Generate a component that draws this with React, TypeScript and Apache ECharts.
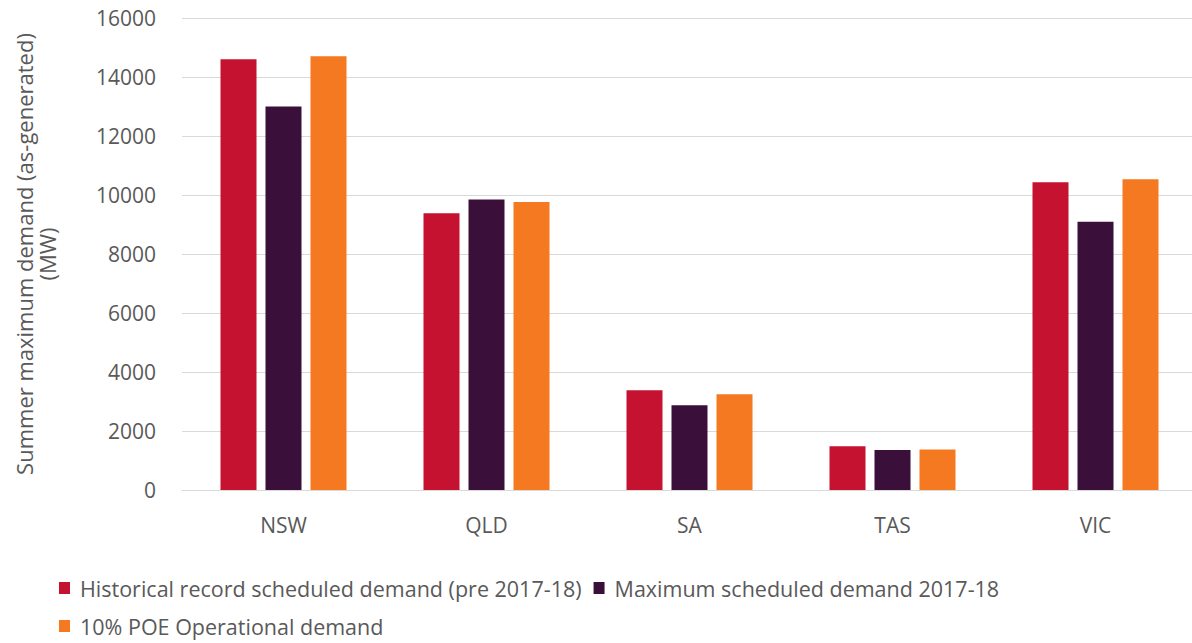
import React, { useEffect, useRef } from "react";
import * as echarts from "echarts";

const categories = ["NSW", "QLD", "SA", "TAS", "VIC"];
const historicalRecord = [14600, 9380, 3380, 1480, 10430];
const maxScheduled2017 = [13000, 9850, 2870, 1360, 9090];
const poe10Operational = [14700, 9760, 3245, 1375, 10530];
const seriesNames = [
  "Historical record scheduled demand (pre 2017-18)",
  "Maximum scheduled demand 2017-18",
  "10% POE Operational demand",
];
const colors = ["#C41230", "#3A0F3A", "#F47920"];

export default function App() {
  const ref = useRef<HTMLDivElement>(null);
  useEffect(() => {
    if (!ref.current) return;
    document.body.style.margin = "0";
    document.body.style.overflow = "hidden";
    const chart = echarts.init(ref.current, null, { renderer: "svg" });
    const font = "'Open Sans', 'Noto Sans', sans-serif";
    const textColor = "#595959";
    const legendText = { color: textColor, fontSize: 21.5, fontFamily: font, padding: [0, 0, 0, 5] };
    chart.setOption({
      animation: false,
      textStyle: { fontFamily: font },
      grid: {
        left: 182,
        top: 18,
        width: 1015,
        height: 472,
        containLabel: false,
        outerBoundsMode: "none",
      },
      legend: [
        {
          data: [seriesNames[0], seriesNames[1]],
          left: 54,
          top: 572,
          icon: "rect",
          itemWidth: 11,
          itemHeight: 12,
          itemGap: 12,
          textStyle: legendText,
        },
        {
          data: [seriesNames[2]],
          left: 54,
          top: 610,
          icon: "rect",
          itemWidth: 11,
          itemHeight: 12,
          textStyle: legendText,
        },
      ],
      xAxis: {
        type: "category",
        data: categories,
        axisLine: { show: true, lineStyle: { color: "#D9D9D9", width: 1 } },
        axisTick: { show: false },
        axisLabel: { color: textColor, fontSize: 21, margin: 24, fontFamily: font },
      },
      yAxis: {
        type: "value",
        min: 0,
        max: 16000,
        interval: 2000,
        name: "Summer maximum demand (as-generated)\n(MW)",
        nameLocation: "middle",
        nameGap: 124,
        nameTextStyle: { color: textColor, fontSize: 22, lineHeight: 23, fontFamily: font },
        axisLine: { show: false },
        axisTick: { show: false },
        axisLabel: {
          color: textColor,
          fontSize: 21,
          margin: 26,
          fontFamily: font,
          formatter: (v: number) => String(v),
        },
        splitLine: { lineStyle: { color: "#D9D9D9", width: 1 } },
      },
      series: [historicalRecord, maxScheduled2017, poe10Operational].map((d, i) => ({
        type: "bar",
        name: seriesNames[i],
        data: d,
        barWidth: 36,
        barGap: "25%",
        itemStyle: { color: colors[i] },
      })),
    });
    return () => chart.dispose();
  }, []);
  return <div ref={ref} style={{ width: 1192, height: 643 }} />;
}
